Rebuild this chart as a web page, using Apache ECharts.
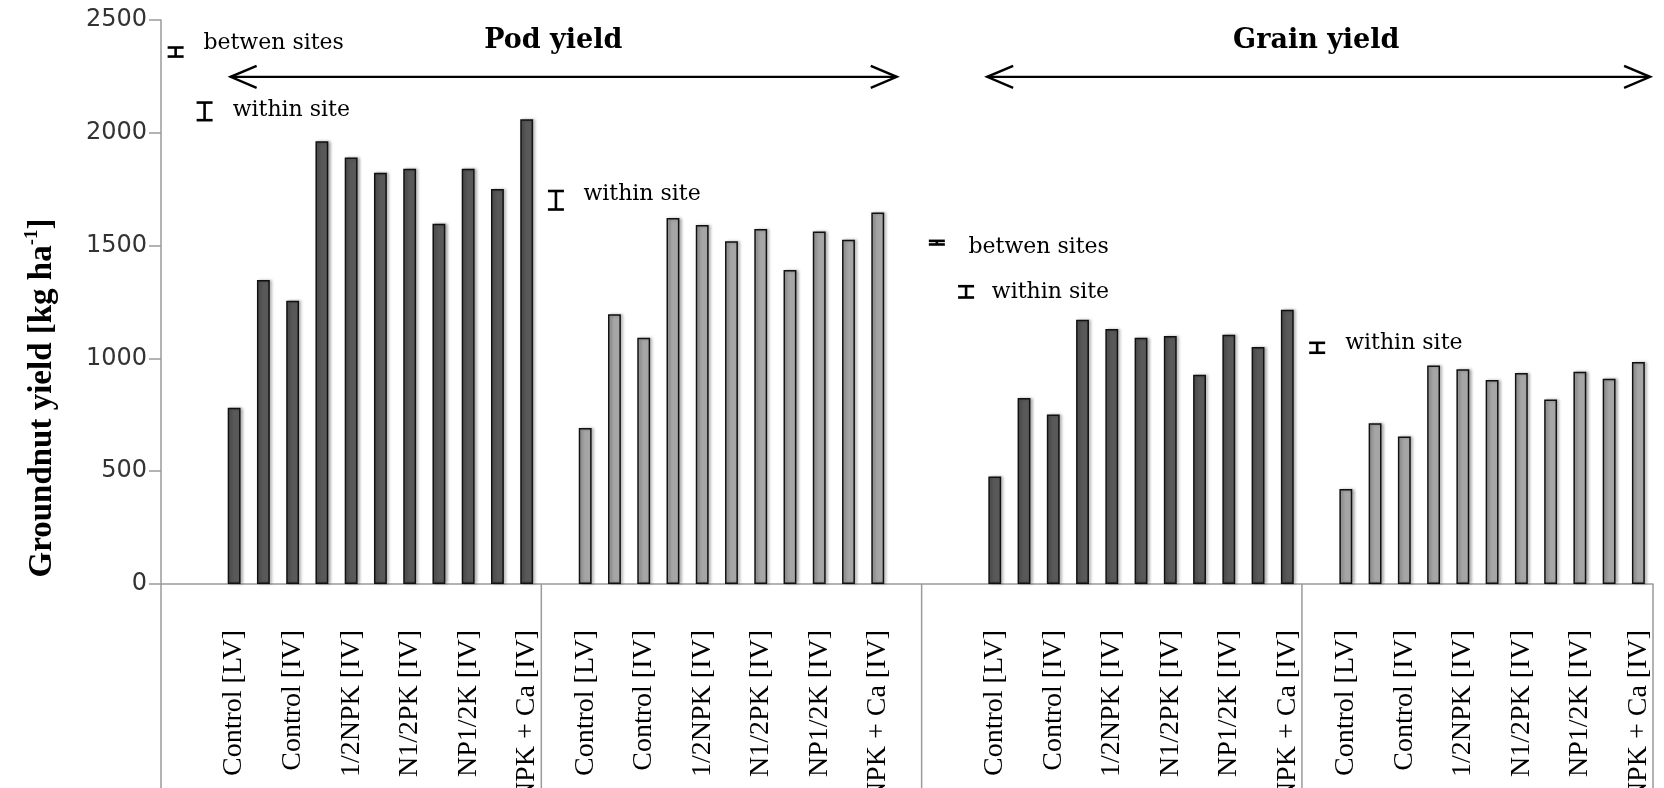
<!DOCTYPE html>
<html><head><meta charset="utf-8">
<script src="https://cdn.jsdelivr.net/npm/echarts@6/dist/echarts.min.js"></script>
<style>html,body{margin:0;padding:0;background:#fff}#chart{width:1664px;height:788px}</style>
</head><body><div id="chart"></div>
<script>
// Treatments (Excel showed every second label only)
const treatmentLabels = ['Control [LV]', '', 'Control [IV]', '', '1/2NPK [IV]', '', 'N1/2PK [IV]', '', 'NP1/2K [IV]', '', 'NPK + Ca [IV]'];
// Values in kg/ha
const podYieldDark    = [781, 1347, 1256, 1962, 1890, 1823, 1841, 1597, 1841, 1751, 2060];
const podYieldLight   = [691, 1196, 1091, 1622, 1591, 1519, 1574, 1392, 1562, 1526, 1647];
const grainYieldDark  = [476, 824, 751, 1171, 1130, 1091, 1099, 927, 1105, 1050, 1216];
const grainYieldLight = [421, 713, 654, 969, 952, 904, 935, 818, 941, 910, 984];
const yTickValues = [0, 500, 1000, 1500, 2000, 2500];
// empty category slots before / after each block of the multi-level axis
const blanksBefore = [2, 1, 2, 1];
const blanksAfter  = [0, 1, 0, 0];
// section headings: [slot position, value, text]
const sectionTitles = [[13.41, 2407, 'Pod yield'], [39.49, 2405, 'Grain yield']];
// double arrows: [from slot, to slot, value]
const sectionArrows = [[2.38, 25.15, 2248], [28.24, 50.9, 2248]];
// LSD bars: [slot position, centre value, half length]
const lsdBars = [[0.50, 2358, 20], [1.49, 2095, 39], [13.50, 1701, 41], [26.52, 1513, 8], [27.52, 1295, 25], [39.52, 1047, 22]];
const lsdLabels = [[1.45, 2397, 'betwen sites'], [2.45, 2101, 'within site'], [14.44, 1726, 'within site'], [27.60, 1491, 'betwen sites'], [28.40, 1295, 'within site'], [40.48, 1066, 'within site']];

const groups = [podYieldDark, podYieldLight, grainYieldDark, grainYieldLight];
const groupColors = ['#595959', '#a6a6a6', '#595959', '#a6a6a6'];
const categories = [];
const seriesData = groups.map(() => []);
const boundaries = [0];
function pushBlank() { categories.push(''); seriesData.forEach(s => s.push(null)); }
groups.forEach((vals, g) => {
  for (let i = 0; i < blanksBefore[g]; i++) pushBlank();
  vals.forEach((v, i) => {
    categories.push(treatmentLabels[i]);
    seriesData.forEach((s, k) => s.push(k === g ? v : null));
  });
  for (let i = 0; i < blanksAfter[g]; i++) pushBlank();
  boundaries.push(categories.length);
});
const nSlots = categories.length;

const chart = echarts.init(document.getElementById('chart'), null, {renderer: 'canvas'});
const axisGray = '#9a9a9a';

const barSeries = groups.map((_, g) => ({
  type: 'bar', xAxisIndex: 0, yAxisIndex: 0,
  data: seriesData[g], barWidth: '44%', barGap: '-100%',
  itemStyle: {color: groupColors[g], borderColor: '#111', borderWidth: 1.5,
    shadowColor: 'rgba(0,0,0,0.3)', shadowBlur: 3, shadowOffsetX: 2, shadowOffsetY: 0},
  silent: true, z: 2
}));

const option = {
  animation: false,
  backgroundColor: '#fff',
  grid: {left: 161, right: 11, top: 20, bottom: 204, containLabel: false, outerBoundsMode: 'none'},
  xAxis: [{
    type: 'category', data: categories,
    axisLine: {show: true, lineStyle: {color: axisGray, width: 1.5}},
    axisTick: {show: false},
    axisLabel: {interval: 0, rotate: 90, margin: 46, color: '#000',
      fontFamily: '"Liberation Serif", "Times New Roman", serif', fontSize: 28},
    splitLine: {show: false}
  }, {
    type: 'value', min: 0, max: nSlots, show: false
  }],
  yAxis: [{
    type: 'value', min: yTickValues[0], max: yTickValues[yTickValues.length - 1],
    interval: yTickValues[1] - yTickValues[0],
    axisLine: {show: true, lineStyle: {color: axisGray, width: 1.5}},
    axisTick: {show: true, inside: false, length: 12, lineStyle: {color: axisGray, width: 1.5}},
    axisLabel: {margin: 14, color: '#333', fontFamily: '"DejaVu Sans", Verdana, sans-serif', fontSize: 24,
      formatter: v => String(v)},
    splitLine: {show: false}
  }],
  graphic: [{
    type: 'text', x: 42, y: 398, rotation: Math.PI / 2,
    style: {
      text: '{a|Groundnut yield [kg ha}{b|-1}{a|]}',
      align: 'center', verticalAlign: 'middle', fill: '#000',
      rich: {
        a: {fontFamily: '"Liberation Serif", "Times New Roman", serif', fontWeight: 'bold', fontSize: 33, lineHeight: 38, fill: '#000'},
        b: {fontFamily: '"Liberation Serif", "Times New Roman", serif', fontWeight: 'bold', fontSize: 19, lineHeight: 38, verticalAlign: 'top', fill: '#000'}
      }
    }
  }],
  series: barSeries.concat([
    { // group separators of the multi-level category axis (and y-axis extension)
      type: 'custom', xAxisIndex: 1, yAxisIndex: 0, silent: true, clip: false, z: 1,
      data: boundaries.map(b => [b, 0]), encode: {x: 0, y: 1},
      renderItem: (params, api) => {
        const p = api.coord([api.value(0), 0]);
        return {type: 'line', shape: {x1: p[0], y1: p[1], x2: p[0], y2: api.getHeight()},
          style: {stroke: axisGray, lineWidth: 1.5}};
      }
    },
    { // LSD bars
      type: 'custom', xAxisIndex: 1, yAxisIndex: 0, silent: true, clip: false, z: 5,
      data: lsdBars, encode: {x: 0, y: 1},
      renderItem: (params, api) => {
        const x = api.value(0), y = api.value(1), h = api.value(2);
        const t = api.coord([x, y + h]), b = api.coord([x, y - h]);
        const w = 8, st = {stroke: '#000', lineWidth: 2.6};
        return {type: 'group', children: [
          {type: 'line', shape: {x1: t[0], y1: t[1], x2: b[0], y2: b[1]}, style: st},
          {type: 'line', shape: {x1: t[0] - w, y1: t[1], x2: t[0] + w, y2: t[1]}, style: st},
          {type: 'line', shape: {x1: b[0] - w, y1: b[1], x2: b[0] + w, y2: b[1]}, style: st}
        ]};
      }
    },
    { // LSD labels
      type: 'custom', xAxisIndex: 1, yAxisIndex: 0, silent: true, clip: false, z: 5,
      data: lsdLabels.map((d, i) => [d[0], d[1], i]), encode: {x: 0, y: 1},
      renderItem: (params, api) => {
        const p = api.coord([api.value(0), api.value(1)]);
        return {type: 'text', x: p[0], y: p[1], style: {
          text: lsdLabels[params.dataIndex][2], fill: '#000',
          font: '22px "DejaVu Serif", serif', align: 'left', verticalAlign: 'middle'}};
      }
    },
    { // section arrows
      type: 'custom', xAxisIndex: 1, yAxisIndex: 0, silent: true, clip: false, z: 5,
      data: sectionArrows, encode: {x: [0, 1], y: 2},
      renderItem: (params, api) => {
        const a = api.coord([api.value(0), api.value(2)]);
        const b = api.coord([api.value(1), api.value(2)]);
        const hx = 26, hy = 11, st = {stroke: '#000', lineWidth: 2.4, fill: null};
        return {type: 'group', children: [
          {type: 'line', shape: {x1: a[0], y1: a[1], x2: b[0], y2: b[1]}, style: st},
          {type: 'polyline', shape: {points: [[a[0] + hx, a[1] - hy], [a[0], a[1]], [a[0] + hx, a[1] + hy]]}, style: st},
          {type: 'polyline', shape: {points: [[b[0] - hx, b[1] - hy], [b[0], b[1]], [b[0] - hx, b[1] + hy]]}, style: st}
        ]};
      }
    },
    { // section titles
      type: 'custom', xAxisIndex: 1, yAxisIndex: 0, silent: true, clip: false, z: 5,
      data: sectionTitles.map((d, i) => [d[0], d[1], i]), encode: {x: 0, y: 1},
      renderItem: (params, api) => {
        const p = api.coord([api.value(0), api.value(1)]);
        return {type: 'text', x: p[0], y: p[1], style: {
          text: sectionTitles[params.dataIndex][2], fill: '#000',
          font: 'bold 27px "DejaVu Serif", serif', align: 'center', verticalAlign: 'middle'}};
      }
    }
  ])
};
chart.setOption(option);
</script>
</body></html>
